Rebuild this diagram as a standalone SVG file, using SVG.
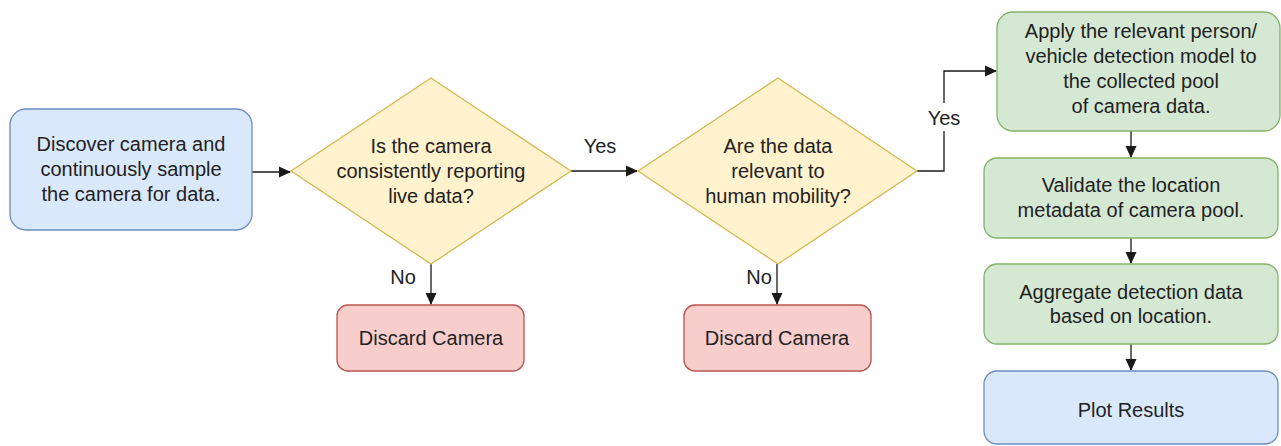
<svg xmlns="http://www.w3.org/2000/svg" width="1281" height="446" viewBox="0 0 1281 446">
<style>
text { font-family: "Liberation Sans", Arial, sans-serif; font-size: 20px; fill: #222222; text-anchor: middle; }
.blue { fill: #dae8fc; stroke: #6c8ebf; stroke-width: 1.3; }
.green { fill: #d5e8d4; stroke: #82b366; stroke-width: 1.3; }
.red { fill: #f8cecc; stroke: #b85450; stroke-width: 1.3; }
.yellow { fill: #fff2cc; stroke: #d6b656; stroke-width: 1.3; }
.edge { fill: none; stroke: #1a1a1a; stroke-width: 1.3; }
</style>
<defs>
<marker id="arr" markerWidth="12" markerHeight="12" refX="11" refY="6" orient="auto" markerUnits="userSpaceOnUse">
<path d="M0,0.5 L12,6 L0,11.5 Z" fill="#1a1a1a"/>
</marker>
</defs>
<rect width="1281" height="446" fill="#ffffff"/>

<g id="connectors">
<path class="edge" d="M252,172 H290" marker-end="url(#arr)"/>
<path class="edge" d="M571,171 H637" marker-end="url(#arr)"/>
<path class="edge" d="M917,171 H944 V71 H996" marker-end="url(#arr)"/>
<path class="edge" d="M431,264 V304" marker-end="url(#arr)"/>
<path class="edge" d="M777,264 V304" marker-end="url(#arr)"/>
<path class="edge" d="M1131,131 V157" marker-end="url(#arr)"/>
<path class="edge" d="M1131,238 V263" marker-end="url(#arr)"/>
<path class="edge" d="M1131,344 V370" marker-end="url(#arr)"/>
<text x="600" y="153">Yes</text>
<rect x="928" y="103" width="33" height="28" fill="#ffffff"/>
<text x="944" y="125">Yes</text>
<text x="403" y="284">No</text>
<text x="759" y="284">No</text>
</g>

<g id="discover">
<rect class="blue" x="10" y="109" width="242" height="121" rx="16"/>
<text x="131" y="151">Discover camera and</text>
<text x="131" y="176">continuously sample</text>
<text x="131" y="201">the camera for data.</text>
</g>

<g id="decision-live">
<path class="yellow" d="M431,78 L571,171 L431,264 L291,171 Z"/>
<text x="431" y="153">Is the camera</text>
<text x="431" y="178">consistently reporting</text>
<text x="431" y="203">live data?</text>
</g>

<g id="decision-relevant">
<path class="yellow" d="M778,78 L917,171 L778,264 L638,171 Z"/>
<text x="778" y="153">Are the data</text>
<text x="778" y="178">relevant to</text>
<text x="778" y="203">human mobility?</text>
</g>

<g id="discard-1">
<rect class="red" x="337" y="305" width="187" height="66" rx="11"/>
<text x="431" y="345">Discard Camera</text>
</g>

<g id="discard-2">
<rect class="red" x="684" y="305" width="187" height="66" rx="11"/>
<text x="777" y="345">Discard Camera</text>
</g>

<g id="apply-model">
<rect class="green" x="997" y="12" width="283" height="119" rx="16"/>
<text x="1141" y="38">Apply the relevant person/</text>
<text x="1141" y="63">vehicle detection model to</text>
<text x="1141" y="88">the collected pool</text>
<text x="1141" y="113">of camera data.</text>
</g>

<g id="validate">
<rect class="green" x="984" y="158" width="294" height="80" rx="13"/>
<text x="1131" y="192">Validate the location</text>
<text x="1131" y="217">metadata of camera pool.</text>
</g>

<g id="aggregate">
<rect class="green" x="984" y="264" width="294" height="80" rx="13"/>
<text x="1131" y="299">Aggregate detection data</text>
<text x="1131" y="323">based on location.</text>
</g>

<g id="plot">
<rect class="blue" x="984" y="371" width="294" height="73" rx="13"/>
<text x="1131" y="417">Plot Results</text>
</g>
</svg>
